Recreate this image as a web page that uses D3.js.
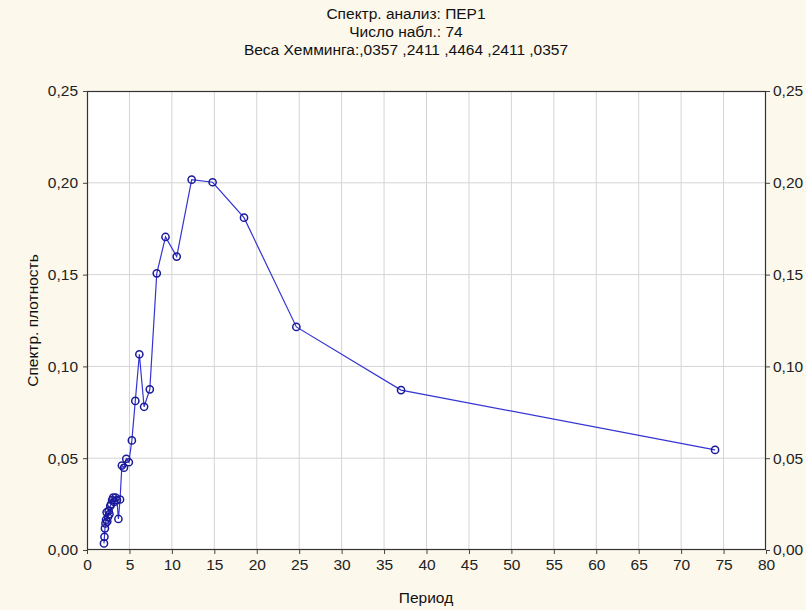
<!DOCTYPE html>
<html><head><meta charset="utf-8">
<script src="https://cdn.jsdelivr.net/npm/d3@7/dist/d3.min.js"></script>
<style>
html,body{margin:0;padding:0;background:#fcf8ec;}
svg{display:block;font-family:"Liberation Sans",Arial,sans-serif;}
</style></head><body>
<svg id="c" width="806" height="610"></svg>
<script>
const titleLines = ["Спектр. анализ: ПЕР1", "Число набл.: 74", "Веса Хемминга:,0357 ,2411 ,4464 ,2411 ,0357"];
const xLabel = "Период";
const yLabel = "Спектр. плотность";
const xTicks = [0,5,10,15,20,25,30,35,40,45,50,55,60,65,70,75,80];
const yTicks = [0,0.05,0.10,0.15,0.20,0.25];
const periods = [74, 37, 24.667, 18.5, 14.8, 12.333, 10.571, 9.25, 8.222, 7.4, 6.727, 6.167, 5.692, 5.286, 4.933, 4.625, 4.353, 4.111, 3.895, 3.7, 3.524, 3.364, 3.217, 3.083, 2.96, 2.846, 2.741, 2.643, 2.552, 2.467, 2.387, 2.313, 2.242, 2.176, 2.114, 2.056, 2.0];
const density = [0.0545, 0.0871, 0.1215, 0.181, 0.2003, 0.2017, 0.1598, 0.1705, 0.1507, 0.0875, 0.078, 0.1066, 0.0812, 0.0597, 0.0478, 0.0497, 0.0448, 0.046, 0.0275, 0.0169, 0.0272, 0.0285, 0.0262, 0.0285, 0.0272, 0.025, 0.024, 0.0195, 0.0213, 0.018, 0.0155, 0.0205, 0.0165, 0.0145, 0.0118, 0.0072, 0.0036];

const svg = d3.select("#c");
const L = 87, R = 766, T = 91, B = 550;
const FS = 15.5;
const x = d3.scaleLinear().domain([0,80]).range([L,R]);
const y = d3.scaleLinear().domain([0,0.25]).range([B,T]);
const loc = d3.formatLocale({decimal:",", thousands:" ", grouping:[3], currency:["",""]});
const fy = loc.format(".2f");

svg.append("rect").attr("x",L).attr("y",T).attr("width",R-L).attr("height",B-T).attr("fill","#fff");

// grid
svg.append("g").selectAll("line").data(xTicks.slice(1,-1)).join("line")
  .attr("x1",d=>x(d)).attr("x2",d=>x(d)).attr("y1",T).attr("y2",B)
  .attr("stroke","#d4d4d4").attr("stroke-width",1);
svg.append("g").selectAll("line").data(yTicks.slice(1,-1)).join("line")
  .attr("y1",d=>y(d)).attr("y2",d=>y(d)).attr("x1",L).attr("x2",R)
  .attr("stroke","#d4d4d4").attr("stroke-width",1);

// axes
const ax = g => g.selectAll(".domain").remove();
svg.append("g").attr("transform",`translate(0,${B})`)
  .call(d3.axisBottom(x).tickValues(xTicks).tickSize(4).tickPadding(5).tickFormat(d3.format("d")))
  .call(ax).call(g=>g.selectAll("text").attr("font-size",FS).attr("fill","#222"))
  .call(g=>g.selectAll("line").attr("stroke","#444"));
svg.append("g").attr("transform",`translate(${L},0)`)
  .call(d3.axisLeft(y).tickValues(yTicks).tickSize(4).tickPadding(5).tickFormat(fy))
  .call(ax).call(g=>g.selectAll("text").attr("font-size",FS).attr("fill","#222"))
  .call(g=>g.selectAll("line").attr("stroke","#444"));
svg.append("g").attr("transform",`translate(${R},0)`)
  .call(d3.axisRight(y).tickValues(yTicks).tickSize(4).tickPadding(3).tickFormat(fy))
  .call(ax).call(g=>g.selectAll("text").attr("font-size",FS).attr("fill","#222"))
  .call(g=>g.selectAll("line").attr("stroke","#444"));

svg.append("rect").attr("x",L+0.5).attr("y",T+0.5).attr("width",R-L-1).attr("height",B-T-1)
  .attr("fill","none").attr("stroke","#333").attr("stroke-width",1.2);

// titles
svg.append("g").selectAll("text").data(titleLines).join("text")
  .attr("x",406).attr("y",(d,i)=>19+i*18).attr("text-anchor","middle")
  .attr("font-size",FS).attr("fill","#111").text(d=>d);
svg.append("text").attr("x",426).attr("y",603).attr("text-anchor","middle")
  .attr("font-size",FS).attr("fill","#111").text(xLabel);
svg.append("text").attr("transform",`translate(38,${(T+B)/2}) rotate(-90)`)
  .attr("text-anchor","middle").attr("font-size",FS).attr("fill","#111").text(yLabel);

// data
const pts = periods.map((p,i)=>({p, v:density[i]}));
svg.append("path").datum(pts)
  .attr("d", d3.line().x(d=>x(d.p)).y(d=>y(d.v)))
  .attr("fill","none").attr("stroke","#3434d4").attr("stroke-width",1.2);
svg.append("g").selectAll("circle").data(pts).join("circle")
  .attr("cx",d=>x(d.p)).attr("cy",d=>y(d.v)).attr("r",3.6)
  .attr("fill","none").attr("stroke","#1a1a9a").attr("stroke-width",1.5);
</script></body></html>
